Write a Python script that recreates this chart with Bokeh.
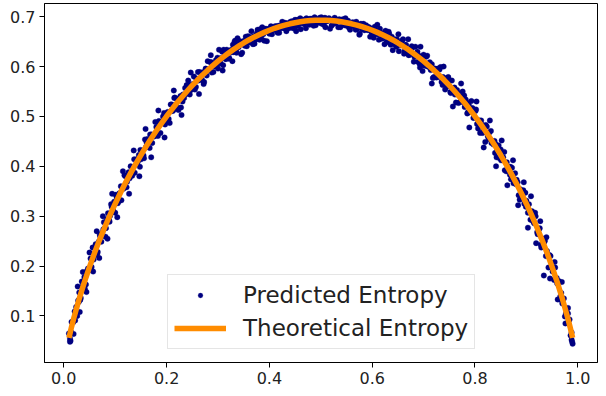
from bokeh.plotting import figure
from bokeh.models import Range1d, FixedTicker
from bokeh.embed import file_html
from bokeh.resources import INLINE

# ---- Predicted entropy (scatter) ----
pred_p_a = [
    0.010, 0.012, 0.013, 0.014, 0.017, 0.022, 0.024, 0.029, 0.030, 0.033, 0.036,
    0.041, 0.045, 0.048, 0.052, 0.054, 0.059, 0.060, 0.063, 0.066, 0.071, 0.075, 0.078,
    0.082, 0.084, 0.089, 0.090, 0.093, 0.096, 0.101, 0.105, 0.108, 0.112, 0.114, 0.119,
    0.120, 0.123, 0.126, 0.131, 0.135, 0.138, 0.142, 0.144, 0.149, 0.150, 0.153, 0.156,
    0.161, 0.165, 0.168, 0.172, 0.174, 0.179, 0.180, 0.183, 0.186, 0.191, 0.195, 0.198,
    0.202, 0.204, 0.209, 0.210, 0.213, 0.216, 0.221, 0.225, 0.228, 0.232, 0.234, 0.239,
    0.240, 0.243, 0.246, 0.251, 0.255, 0.258, 0.262, 0.264, 0.269, 0.270, 0.273, 0.276,
    0.281, 0.285, 0.288, 0.292, 0.294, 0.299, 0.300, 0.303, 0.306, 0.311, 0.315, 0.318,
    0.322, 0.324, 0.329, 0.330, 0.333, 0.336, 0.341, 0.345, 0.348, 0.352, 0.354, 0.359,
    0.360, 0.363, 0.366, 0.371, 0.375, 0.378, 0.382, 0.384, 0.389, 0.390, 0.393, 0.396,
    0.401, 0.405, 0.408, 0.412, 0.414, 0.419, 0.420, 0.423, 0.426, 0.431, 0.435, 0.438,
    0.442, 0.444, 0.449, 0.450, 0.453, 0.456, 0.461, 0.465, 0.468, 0.472, 0.474, 0.479,
    0.480, 0.483, 0.486, 0.491, 0.495, 0.498, 0.502, 0.504, 0.509, 0.510, 0.513, 0.516,
    0.521, 0.525, 0.528, 0.532, 0.534, 0.539, 0.540, 0.543, 0.546, 0.551, 0.555, 0.558,
    0.562, 0.564, 0.569, 0.570, 0.573, 0.576, 0.581, 0.585, 0.588, 0.592, 0.594, 0.599,
    0.600, 0.603, 0.606, 0.611, 0.615, 0.618, 0.622, 0.624, 0.629, 0.630, 0.633, 0.636,
    0.641, 0.645, 0.648, 0.652, 0.654, 0.659, 0.660, 0.663, 0.666, 0.671, 0.675, 0.678,
    0.682, 0.684, 0.689, 0.690, 0.693, 0.696, 0.701, 0.705, 0.708, 0.712, 0.714, 0.719,
    0.720, 0.723, 0.726, 0.731, 0.735, 0.738, 0.742, 0.744, 0.749, 0.750, 0.753, 0.756,
    0.761, 0.765, 0.768, 0.772, 0.774, 0.779, 0.780, 0.783, 0.786, 0.791, 0.795, 0.798,
    0.802, 0.804, 0.809, 0.810, 0.813, 0.816, 0.821, 0.825, 0.828, 0.832, 0.834, 0.839,
    0.840, 0.843, 0.846, 0.851, 0.855, 0.858, 0.862, 0.864, 0.869, 0.870, 0.873, 0.876,
    0.881, 0.885, 0.888, 0.892, 0.894, 0.899, 0.900, 0.903, 0.906, 0.911, 0.915, 0.918,
    0.922, 0.924, 0.929, 0.930, 0.933, 0.936, 0.941, 0.945, 0.948, 0.952, 0.954, 0.959,
    0.960, 0.963, 0.966, 0.971, 0.975, 0.978, 0.982, 0.984, 0.988, 0.989, 0.990,
]
pred_entropy_a = [
    0.065, 0.048, 0.050, 0.068, 0.088, 0.091, 0.118, 0.128, 0.147, 0.136, 0.159,
    0.154, 0.190, 0.191, 0.215, 0.198, 0.224, 0.221, 0.243, 0.228, 0.259, 0.267, 0.288,
    0.276, 0.294, 0.289, 0.301, 0.319, 0.311, 0.343, 0.326, 0.346, 0.332, 0.357, 0.358,
    0.380, 0.369, 0.388, 0.382, 0.398, 0.387, 0.414, 0.409, 0.433, 0.414, 0.432, 0.416,
    0.448, 0.447, 0.464, 0.447, 0.462, 0.464, 0.479, 0.461, 0.483, 0.489, 0.507, 0.490,
    0.509, 0.495, 0.511, 0.524, 0.513, 0.538, 0.518, 0.537, 0.518, 0.544, 0.537, 0.563,
    0.547, 0.563, 0.552, 0.565, 0.554, 0.576, 0.572, 0.589, 0.573, 0.587, 0.569, 0.596,
    0.593, 0.609, 0.588, 0.604, 0.600, 0.618, 0.596, 0.616, 0.617, 0.634, 0.615, 0.631,
    0.617, 0.628, 0.644, 0.629, 0.652, 0.628, 0.646, 0.625, 0.648, 0.642, 0.660, 0.649,
    0.660, 0.649, 0.659, 0.646, 0.666, 0.660, 0.675, 0.657, 0.671, 0.652, 0.676, 0.670,
    0.677, 0.665, 0.676, 0.673, 0.681, 0.668, 0.681, 0.681, 0.688, 0.677, 0.687, 0.677,
    0.685, 0.691, 0.684, 0.694, 0.681, 0.691, 0.675, 0.692, 0.685, 0.697, 0.689, 0.696,
    0.687, 0.694, 0.682, 0.695, 0.691, 0.698, 0.686, 0.695, 0.679, 0.696, 0.692, 0.697,
    0.682, 0.692, 0.687, 0.694, 0.679, 0.691, 0.690, 0.695, 0.683, 0.690, 0.678, 0.684,
    0.689, 0.681, 0.690, 0.675, 0.684, 0.666, 0.681, 0.673, 0.683, 0.673, 0.679, 0.668,
    0.675, 0.658, 0.674, 0.665, 0.676, 0.656, 0.666, 0.645, 0.665, 0.658, 0.666, 0.644,
    0.653, 0.644, 0.655, 0.631, 0.648, 0.643, 0.655, 0.631, 0.643, 0.623, 0.629, 0.638,
    0.620, 0.640, 0.610, 0.623, 0.598, 0.616, 0.603, 0.620, 0.600, 0.609, 0.593, 0.596,
    0.579, 0.595, 0.584, 0.594, 0.569, 0.579, 0.554, 0.576, 0.562, 0.573, 0.547, 0.556,
    0.544, 0.553, 0.527, 0.540, 0.535, 0.542, 0.519, 0.529, 0.508, 0.511, 0.517, 0.498,
    0.514, 0.485, 0.492, 0.467, 0.484, 0.470, 0.483, 0.460, 0.468, 0.447, 0.451, 0.427,
    0.445, 0.432, 0.442, 0.412, 0.418, 0.392, 0.408, 0.397, 0.399, 0.374, 0.381, 0.369,
    0.373, 0.342, 0.354, 0.343, 0.352, 0.319, 0.331, 0.307, 0.310, 0.310, 0.286, 0.300,
    0.264, 0.273, 0.237, 0.256, 0.239, 0.251, 0.220, 0.222, 0.198, 0.194, 0.172, 0.176,
    0.165, 0.170, 0.139, 0.135, 0.099, 0.112, 0.089, 0.093, 0.052, 0.048, 0.044,
]
pred_p_b = [
    0.012, 0.015, 0.018, 0.021, 0.026, 0.028, 0.032, 0.035, 0.038, 0.040, 0.043, 0.047,
    0.051, 0.056, 0.058, 0.062, 0.065, 0.068, 0.070, 0.073, 0.077, 0.081, 0.086, 0.088,
    0.092, 0.095, 0.098, 0.100, 0.103, 0.107, 0.111, 0.116, 0.118, 0.122, 0.125, 0.128,
    0.130, 0.133, 0.137, 0.141, 0.146, 0.148, 0.152, 0.155, 0.158, 0.160, 0.163, 0.167,
    0.171, 0.176, 0.178, 0.182, 0.185, 0.188, 0.190, 0.193, 0.197, 0.201, 0.206, 0.208,
    0.212, 0.215, 0.218, 0.220, 0.223, 0.227, 0.231, 0.236, 0.238, 0.242, 0.245, 0.248,
    0.250, 0.253, 0.257, 0.261, 0.266, 0.268, 0.272, 0.275, 0.278, 0.280, 0.283, 0.287,
    0.291, 0.296, 0.298, 0.302, 0.305, 0.308, 0.310, 0.313, 0.317, 0.321, 0.326, 0.328,
    0.332, 0.335, 0.338, 0.340, 0.343, 0.347, 0.351, 0.356, 0.358, 0.362, 0.365, 0.368,
    0.370, 0.373, 0.377, 0.381, 0.386, 0.388, 0.392, 0.395, 0.398, 0.400, 0.403, 0.407,
    0.411, 0.416, 0.418, 0.422, 0.425, 0.428, 0.430, 0.433, 0.437, 0.441, 0.446, 0.448,
    0.452, 0.455, 0.458, 0.460, 0.463, 0.467, 0.471, 0.476, 0.478, 0.482, 0.485, 0.488,
    0.490, 0.493, 0.497, 0.501, 0.506, 0.508, 0.512, 0.515, 0.518, 0.520, 0.523, 0.527,
    0.531, 0.536, 0.538, 0.542, 0.545, 0.548, 0.550, 0.553, 0.557, 0.561, 0.566, 0.568,
    0.572, 0.575, 0.578, 0.580, 0.583, 0.587, 0.591, 0.596, 0.598, 0.602, 0.605, 0.608,
    0.610, 0.613, 0.617, 0.621, 0.626, 0.628, 0.632, 0.635, 0.638, 0.640, 0.643, 0.647,
    0.651, 0.656, 0.658, 0.662, 0.665, 0.668, 0.670, 0.673, 0.677, 0.681, 0.686, 0.688,
    0.692, 0.695, 0.698, 0.700, 0.703, 0.707, 0.711, 0.716, 0.718, 0.722, 0.725, 0.728,
    0.730, 0.733, 0.737, 0.741, 0.746, 0.748, 0.752, 0.755, 0.758, 0.760, 0.763, 0.767,
    0.771, 0.776, 0.778, 0.782, 0.785, 0.788, 0.790, 0.793, 0.797, 0.801, 0.806, 0.808,
    0.812, 0.815, 0.818, 0.820, 0.823, 0.827, 0.831, 0.836, 0.838, 0.842, 0.845, 0.848,
    0.850, 0.853, 0.857, 0.861, 0.866, 0.868, 0.872, 0.875, 0.878, 0.880, 0.883, 0.887,
    0.891, 0.896, 0.898, 0.902, 0.905, 0.908, 0.910, 0.913, 0.917, 0.921, 0.926, 0.928,
    0.932, 0.935, 0.938, 0.940, 0.943, 0.947, 0.951, 0.956, 0.958, 0.962, 0.965, 0.968,
    0.970, 0.973, 0.977, 0.981, 0.986, 0.988,
]
pred_entropy_b = [
    0.054, 0.088, 0.087, 0.109, 0.100, 0.131, 0.132, 0.169, 0.160, 0.178, 0.163, 0.195,
    0.196, 0.237, 0.213, 0.244, 0.224, 0.249, 0.263, 0.249, 0.274, 0.259, 0.306, 0.292,
    0.324, 0.312, 0.329, 0.307, 0.337, 0.330, 0.360, 0.355, 0.382, 0.358, 0.379, 0.376,
    0.400, 0.381, 0.414, 0.404, 0.423, 0.399, 0.430, 0.422, 0.454, 0.439, 0.455, 0.437,
    0.464, 0.460, 0.489, 0.466, 0.491, 0.467, 0.487, 0.500, 0.484, 0.505, 0.487, 0.524,
    0.511, 0.537, 0.522, 0.535, 0.513, 0.541, 0.530, 0.557, 0.545, 0.572, 0.544, 0.562,
    0.555, 0.580, 0.559, 0.589, 0.576, 0.588, 0.565, 0.592, 0.582, 0.611, 0.595, 0.609,
    0.589, 0.613, 0.604, 0.634, 0.607, 0.630, 0.603, 0.622, 0.634, 0.616, 0.634, 0.611,
    0.649, 0.632, 0.657, 0.639, 0.651, 0.628, 0.652, 0.641, 0.661, 0.651, 0.671, 0.645,
    0.661, 0.654, 0.674, 0.654, 0.679, 0.665, 0.675, 0.651, 0.675, 0.666, 0.681, 0.675,
    0.681, 0.668, 0.682, 0.677, 0.690, 0.677, 0.688, 0.671, 0.685, 0.690, 0.677, 0.689,
    0.671, 0.694, 0.685, 0.697, 0.688, 0.694, 0.677, 0.694, 0.684, 0.696, 0.689, 0.699,
    0.683, 0.694, 0.688, 0.699, 0.684, 0.698, 0.691, 0.696, 0.676, 0.694, 0.685, 0.698,
    0.690, 0.695, 0.679, 0.692, 0.685, 0.697, 0.682, 0.692, 0.674, 0.686, 0.688, 0.674,
    0.684, 0.664, 0.686, 0.675, 0.686, 0.676, 0.680, 0.660, 0.676, 0.662, 0.680, 0.666,
    0.684, 0.654, 0.668, 0.657, 0.672, 0.649, 0.670, 0.653, 0.660, 0.633, 0.655, 0.640,
    0.665, 0.643, 0.652, 0.626, 0.644, 0.631, 0.655, 0.624, 0.641, 0.610, 0.623, 0.630,
    0.606, 0.618, 0.591, 0.624, 0.602, 0.622, 0.599, 0.605, 0.577, 0.596, 0.578, 0.596,
    0.579, 0.599, 0.563, 0.574, 0.560, 0.579, 0.549, 0.572, 0.550, 0.558, 0.528, 0.547,
    0.529, 0.550, 0.528, 0.534, 0.506, 0.523, 0.509, 0.531, 0.497, 0.511, 0.476, 0.490,
    0.492, 0.467, 0.477, 0.449, 0.480, 0.455, 0.471, 0.444, 0.451, 0.418, 0.436, 0.416,
    0.434, 0.413, 0.429, 0.390, 0.396, 0.383, 0.397, 0.366, 0.386, 0.364, 0.368, 0.333,
    0.348, 0.325, 0.347, 0.320, 0.324, 0.293, 0.309, 0.290, 0.307, 0.268, 0.276, 0.243,
    0.249, 0.249, 0.220, 0.230, 0.197, 0.220, 0.189, 0.197, 0.172, 0.169, 0.133, 0.146,
    0.125, 0.135, 0.105, 0.105, 0.061, 0.067,
]
pred_p_c = [
    0.019, 0.027, 0.031, 0.037, 0.044, 0.050, 0.057, 0.064, 0.069, 0.076, 0.085, 0.094,
    0.104, 0.115, 0.127, 0.136, 0.147, 0.159, 0.170, 0.184, 0.196, 0.214, 0.229, 0.247,
    0.263, 0.286, 0.309,
    0.694, 0.716, 0.739, 0.757, 0.773, 0.789, 0.803, 0.817, 0.829, 0.841, 0.852, 0.863,
    0.874, 0.884, 0.895, 0.903, 0.909, 0.919, 0.927, 0.934, 0.939, 0.946, 0.955, 0.961,
    0.969, 0.976, 0.981,
]
pred_entropy_c = [
    0.064, 0.159, 0.108, 0.188, 0.148, 0.227, 0.189, 0.270, 0.216, 0.300, 0.255, 0.345,
    0.298, 0.390, 0.345, 0.432, 0.380, 0.475, 0.418, 0.512, 0.458, 0.552, 0.503, 0.588,
    0.545, 0.623, 0.592,
    0.640, 0.566, 0.600, 0.520, 0.566, 0.478, 0.530, 0.438, 0.492, 0.400, 0.452, 0.362,
    0.412, 0.322, 0.368, 0.277, 0.340, 0.246, 0.290, 0.181, 0.258, 0.175, 0.208, 0.133,
    0.168, 0.085, 0.116,
]
pred_p = pred_p_a + pred_p_b + pred_p_c
pred_entropy = pred_entropy_a + pred_entropy_b + pred_entropy_c

# ---- Theoretical entropy (line) ----
theory_p = [
    0.010, 0.015, 0.02, 0.03, 0.04, 0.05, 0.06, 0.07, 0.08, 0.09, 0.10,
    0.11, 0.12, 0.13, 0.14, 0.15, 0.16, 0.17, 0.18, 0.19, 0.20,
    0.21, 0.22, 0.23, 0.24, 0.25, 0.26, 0.27, 0.28, 0.29, 0.30,
    0.31, 0.32, 0.33, 0.34, 0.35, 0.36, 0.37, 0.38, 0.39, 0.40,
    0.41, 0.42, 0.43, 0.44, 0.45, 0.46, 0.47, 0.48, 0.49, 0.50,
    0.51, 0.52, 0.53, 0.54, 0.55, 0.56, 0.57, 0.58, 0.59, 0.60,
    0.61, 0.62, 0.63, 0.64, 0.65, 0.66, 0.67, 0.68, 0.69, 0.70,
    0.71, 0.72, 0.73, 0.74, 0.75, 0.76, 0.77, 0.78, 0.79, 0.80,
    0.81, 0.82, 0.83, 0.84, 0.85, 0.86, 0.87, 0.88, 0.89, 0.90,
    0.91, 0.92, 0.93, 0.94, 0.95, 0.96, 0.97, 0.98, 0.985, 0.990,
]
theory_entropy = [
    0.0560, 0.0779, 0.0980, 0.1347, 0.1679, 0.1985, 0.2270, 0.2536, 0.2788, 0.3025, 0.3251,
    0.3465, 0.3669, 0.3864, 0.4050, 0.4227, 0.4397, 0.4559, 0.4714, 0.4862, 0.5004,
    0.5139, 0.5269, 0.5392, 0.5511, 0.5623, 0.5731, 0.5833, 0.5929, 0.6022, 0.6109,
    0.6191, 0.6268, 0.6342, 0.6410, 0.6474, 0.6534, 0.6590, 0.6641, 0.6687, 0.6730,
    0.6769, 0.6803, 0.6833, 0.6859, 0.6881, 0.6899, 0.6914, 0.6923, 0.6929, 0.6931,
    0.6929, 0.6923, 0.6914, 0.6899, 0.6881, 0.6859, 0.6833, 0.6803, 0.6769, 0.6730,
    0.6687, 0.6641, 0.6590, 0.6534, 0.6474, 0.6410, 0.6342, 0.6268, 0.6191, 0.6109,
    0.6022, 0.5929, 0.5833, 0.5731, 0.5623, 0.5511, 0.5392, 0.5269, 0.5139, 0.5004,
    0.4862, 0.4714, 0.4559, 0.4397, 0.4227, 0.4050, 0.3864, 0.3669, 0.3465, 0.3251,
    0.3025, 0.2788, 0.2536, 0.2270, 0.1985, 0.1679, 0.1347, 0.0980, 0.0779, 0.0560,
]

x_ticks = [0.0, 0.2, 0.4, 0.6, 0.8, 1.0]
x_tick_labels = ["0.0", "0.2", "0.4", "0.6", "0.8", "1.0"]
y_ticks = [0.1, 0.2, 0.3, 0.4, 0.5, 0.6, 0.7]
y_tick_labels = ["0.1", "0.2", "0.3", "0.4", "0.5", "0.6", "0.7"]

series_labels = ["Predicted Entropy", "Theoretical Entropy"]

p = figure(
    frame_width=553, frame_height=359,
    x_range=Range1d(-0.0376, 1.0384), y_range=Range1d(0.0066, 0.7266),
    output_backend="svg", toolbar_location=None,
    min_border_left=44, min_border_right=1, min_border_top=3, min_border_bottom=0,
    background_fill_color="white", border_fill_color="white",
)

p.scatter(pred_p, pred_entropy, size=5.5, marker="circle",
          fill_color="navy", line_color="navy", line_width=0.3,
          legend_label=series_labels[0])
p.line(theory_p, theory_entropy, line_color="darkorange", line_width=5.5,
       legend_label=series_labels[1])

p.xgrid.visible = False
p.ygrid.visible = False
p.outline_line_color = "black"
p.outline_line_width = 1

p.xaxis.ticker = FixedTicker(ticks=x_ticks)
p.xaxis.major_label_overrides = dict(zip(x_ticks, x_tick_labels))
p.yaxis.ticker = FixedTicker(ticks=y_ticks)
p.yaxis.major_label_overrides = dict(zip(y_ticks, y_tick_labels))

for ax in (p.xaxis, p.yaxis):
    ax.axis_line_color = "black"
    ax.axis_line_width = 1
    ax.major_tick_line_color = "black"
    ax.major_tick_out = 5
    ax.major_tick_in = 0
    ax.minor_tick_out = 0
    ax.minor_tick_in = 0
    ax.major_label_text_font = "DejaVu Sans"
    ax.major_label_text_font_size = "16px"
    ax.major_label_text_color = "#222222"
p.xaxis.major_label_standoff = 4
p.yaxis.major_label_standoff = 4

lg = p.legend[0]
lg.location = (123, 13)
lg.label_text_font = "DejaVu Sans"
lg.label_text_font_size = "23px"
lg.label_text_color = "#222222"
lg.glyph_width = 52
lg.glyph_height = 12
lg.label_height = 28
lg.label_standoff = 17
lg.padding = 6
lg.spacing = 5
lg.margin = 0
lg.border_line_color = "#cccccc"
lg.border_line_width = 1
lg.background_fill_alpha = 0.8

open("out.html", "w").write(file_html(p, INLINE))
